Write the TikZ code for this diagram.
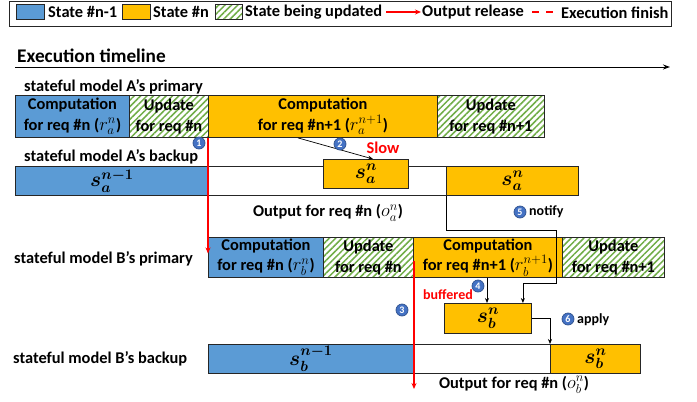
\RequirePackage{fix-cm}
\documentclass[tikz,border=0pt]{standalone}
\usepackage{amsmath,bm}
\usepackage{fontspec}
\setmainfont{Carlito}
\usetikzlibrary{patterns.meta,arrows.meta}

\definecolor{sblue}{HTML}{5B9BD5}
\definecolor{syellow}{HTML}{FFC000}
\definecolor{sgreen}{HTML}{70AD47}
\definecolor{nblue}{HTML}{4472C4}
\definecolor{nborder}{HTML}{2F528F}
\definecolor{sred}{HTML}{FF0000}

\newcommand\boxfont{\fontsize{16.4}{20.5}\selectfont\bfseries}
\newcommand\lblfont{\fontsize{16.4}{20}\selectfont\bfseries}
\newcommand\bigfont{\fontsize{19.3}{22}\selectfont\bfseries}
\newcommand\smallfont{\fontsize{14}{16}\selectfont\bfseries}
\newcommand\numfont{\fontsize{10}{11}\selectfont\bfseries}
\newcommand\sfont{\fontsize{21}{24}\selectfont}
\newcommand\mth[1]{{\fontsize{18.5}{20.5}\selectfont$#1$}}

\tikzset{
  box/.style={draw=black!85, line width=0.9pt, anchor=north west, inner sep=0pt, align=center, font=\boxfont},
  blbox/.style={box, fill=sblue},
  ylbox/.style={box, fill=syellow},
  whbox/.style={box, fill=white},
  grbox/.style={box, preaction={fill=white}, pattern={Lines[angle=45,distance=4.5pt,line width=1.5pt]}, pattern color=sgreen},
  lbl/.style={font=\lblfont, inner sep=0pt},
  num/.style={circle, fill=nblue, draw=nborder, line width=0.7pt, text=white, font=\numfont, inner sep=0pt, minimum size=12pt},
  conn/.style={-{Stealth[length=5pt,width=4pt]}, line width=0.7pt, black},
  rarr/.style={sred, line width=1.3pt, -{Stealth[length=6pt,width=5pt]}},
}

\begin{document}
\begin{tikzpicture}[x=1pt,y=-1pt]
\fill[white] (0,0) rectangle (697,402);
\useasboundingbox (0,0) rectangle (697,402);

% legend
\node[draw=black!85, line width=0.9pt, anchor=north west, minimum width=662pt, minimum height=25pt, inner sep=0pt] (legend) at (9,1) {};
\node[blbox, minimum width=28pt, minimum height=15pt] (lgb) at (16,4) {};
\node[lbl, anchor=west] (lgbt) at (48,12) {State \#n-1};
\node[ylbox, minimum width=28pt, minimum height=15pt] (lgy) at (122,4) {};
\node[lbl, anchor=west] (lgyt) at (153,12) {State \#n};
\node[grbox, minimum width=27pt, minimum height=15pt] (lgg) at (215,4) {};
\node[lbl, anchor=west] (lggt) at (245,12) {State being updated};
\coordinate (lga1) at (386,12);
\coordinate (lga2) at (421,12);
\draw[rarr, line width=1.2pt] (lga1) -- (lga2);
\node[lbl, anchor=west] (lgat) at (422,12) {Output release};
\coordinate (lgd1) at (532,12);
\coordinate (lgd2) at (554,12);
\draw[sred, line width=1.3pt, dash pattern=on 7pt off 7pt] (lgd1) -- (lgd2);
\node[lbl, anchor=west] (lgdt) at (561,13) {Execution finish};

% timeline
\node[font=\bigfont, inner sep=0pt, anchor=west] (tl) at (17,56) {Execution timeline};
\coordinate (tl1) at (15,67);
\coordinate (tl2) at (670,67);
\draw[line width=1pt, -{Stealth[length=7pt,width=5pt]}] (tl1) -- (tl2);

% A primary
\node[lbl, anchor=west] (la1) at (24,87) {stateful model A’s primary};
\node[blbox, minimum width=114pt, minimum height=42pt] (a1) at (15,95) {Computation\\for req \#n (\mth{r_a^n})};
\node[grbox, minimum width=79pt, minimum height=42pt] (a2) at (129,95) {Update\\for req \#n};
\node[ylbox, minimum width=229pt, minimum height=42pt] (a3) at (208,95) {Computation\\for req \#n+1 (\mth{r_a^{n+1}})};
\node[grbox, minimum width=107pt, minimum height=42pt] (a4) at (437,95) {Update\\for req \#n+1};

% A backup
\node[lbl, anchor=west] (la2) at (24,157) {stateful model A’s backup};
\node[whbox, minimum width=431pt, minimum height=29pt] (ab0) at (15,166) {};
\node[blbox, minimum width=193pt, minimum height=29pt, font=\sfont] (ab1) at (15,166) {$\bm{s_a^{n-1}}$};
\node[ylbox, minimum width=85pt, minimum height=29pt, font=\sfont] (ab2) at (323,159) {$\bm{s_a^{n}}$};
\node[ylbox, minimum width=132pt, minimum height=29pt, font=\sfont] (ab3) at (446,166) {$\bm{s_a^{n}}$};
\node[lbl, anchor=center] (oa) at (328,213) {Output for req \#n (\mth{o_a^n})};

% B primary
\node[lbl, anchor=west] (lb1) at (14,259) {stateful model B’s primary};
\node[blbox, minimum width=115pt, minimum height=40pt] (b1) at (208,237) {Computation\\for req \#n (\mth{r_b^n})};
\node[grbox, minimum width=90pt, minimum height=40pt] (b2) at (323,237) {Update\\for req \#n};
\node[ylbox, minimum width=149pt, minimum height=40pt] (b3) at (413,237) {Computation\\for req \#n+1 (\mth{r_b^{n+1}})};
\node[grbox, minimum width=102pt, minimum height=40pt] (b4) at (562,237) {Update\\for req \#n+1};

% buffered state
\node[ylbox, minimum width=87pt, minimum height=30pt, font=\sfont] (sb) at (444,303) {$\bm{s_b^{n}}$};

% B backup
\node[lbl, anchor=west] (lb2) at (13,359) {stateful model B’s backup};
\node[whbox, minimum width=342pt, minimum height=29pt] (bb0) at (208,344) {};
\node[blbox, minimum width=205pt, minimum height=29pt, font=\sfont] (bb1) at (208,344) {$\bm{s_b^{n-1}}$};
\node[ylbox, minimum width=90pt, minimum height=29pt, font=\sfont] (bb3) at (550,344) {$\bm{s_b^{n}}$};
\node[lbl, anchor=center] (ob) at (514,385) {Output for req \#n (\mth{o_b^n})};

% labels
\node[font=\lblfont, text=sred, inner sep=0pt] (slow) at (383,148) {Slow};
\node[font=\smallfont, text=sred, inner sep=0pt] (buf) at (448,295) {buffered};
\node[font=\smallfont, inner sep=0pt, anchor=west] (notify) at (529,212) {notify};
\node[font=\smallfont, inner sep=0pt, anchor=west] (apply) at (577,320) {apply};

% connectors
\draw[conn] ([xshift=90pt]a3.south west) -- ([xshift=50pt]ab2.north west);
\draw[conn] (ab3.south west) -- ++(0,34) -- ++(110,0) -- ++(0,53) -| ([xshift=-9pt]sb.north east);
\coordinate (sbin) at ([xshift=43pt]sb.north west);
\draw[conn] (b3.south -| sbin) -- (sbin);
\draw[conn] (sb.east) -| (bb3.north west);

\draw[rarr] (a3.south west) -- ([yshift=4pt]b1.west);
\coordinate (o3end) at (414,389);
\draw[rarr] ([xshift=1pt,yshift=-4pt]b3.west) -- (o3end);

% numbered circles
\node[num] (n1) at (199,143) {1};
\node[num] (n2) at (340,144) {2};
\node[num] (n3) at (402,310) {3};
\node[num] (n4) at (478,286) {4};
\node[num] (n5) at (520,212) {5};
\node[num] (n6) at (568,319) {6};
\end{tikzpicture}
\end{document}
